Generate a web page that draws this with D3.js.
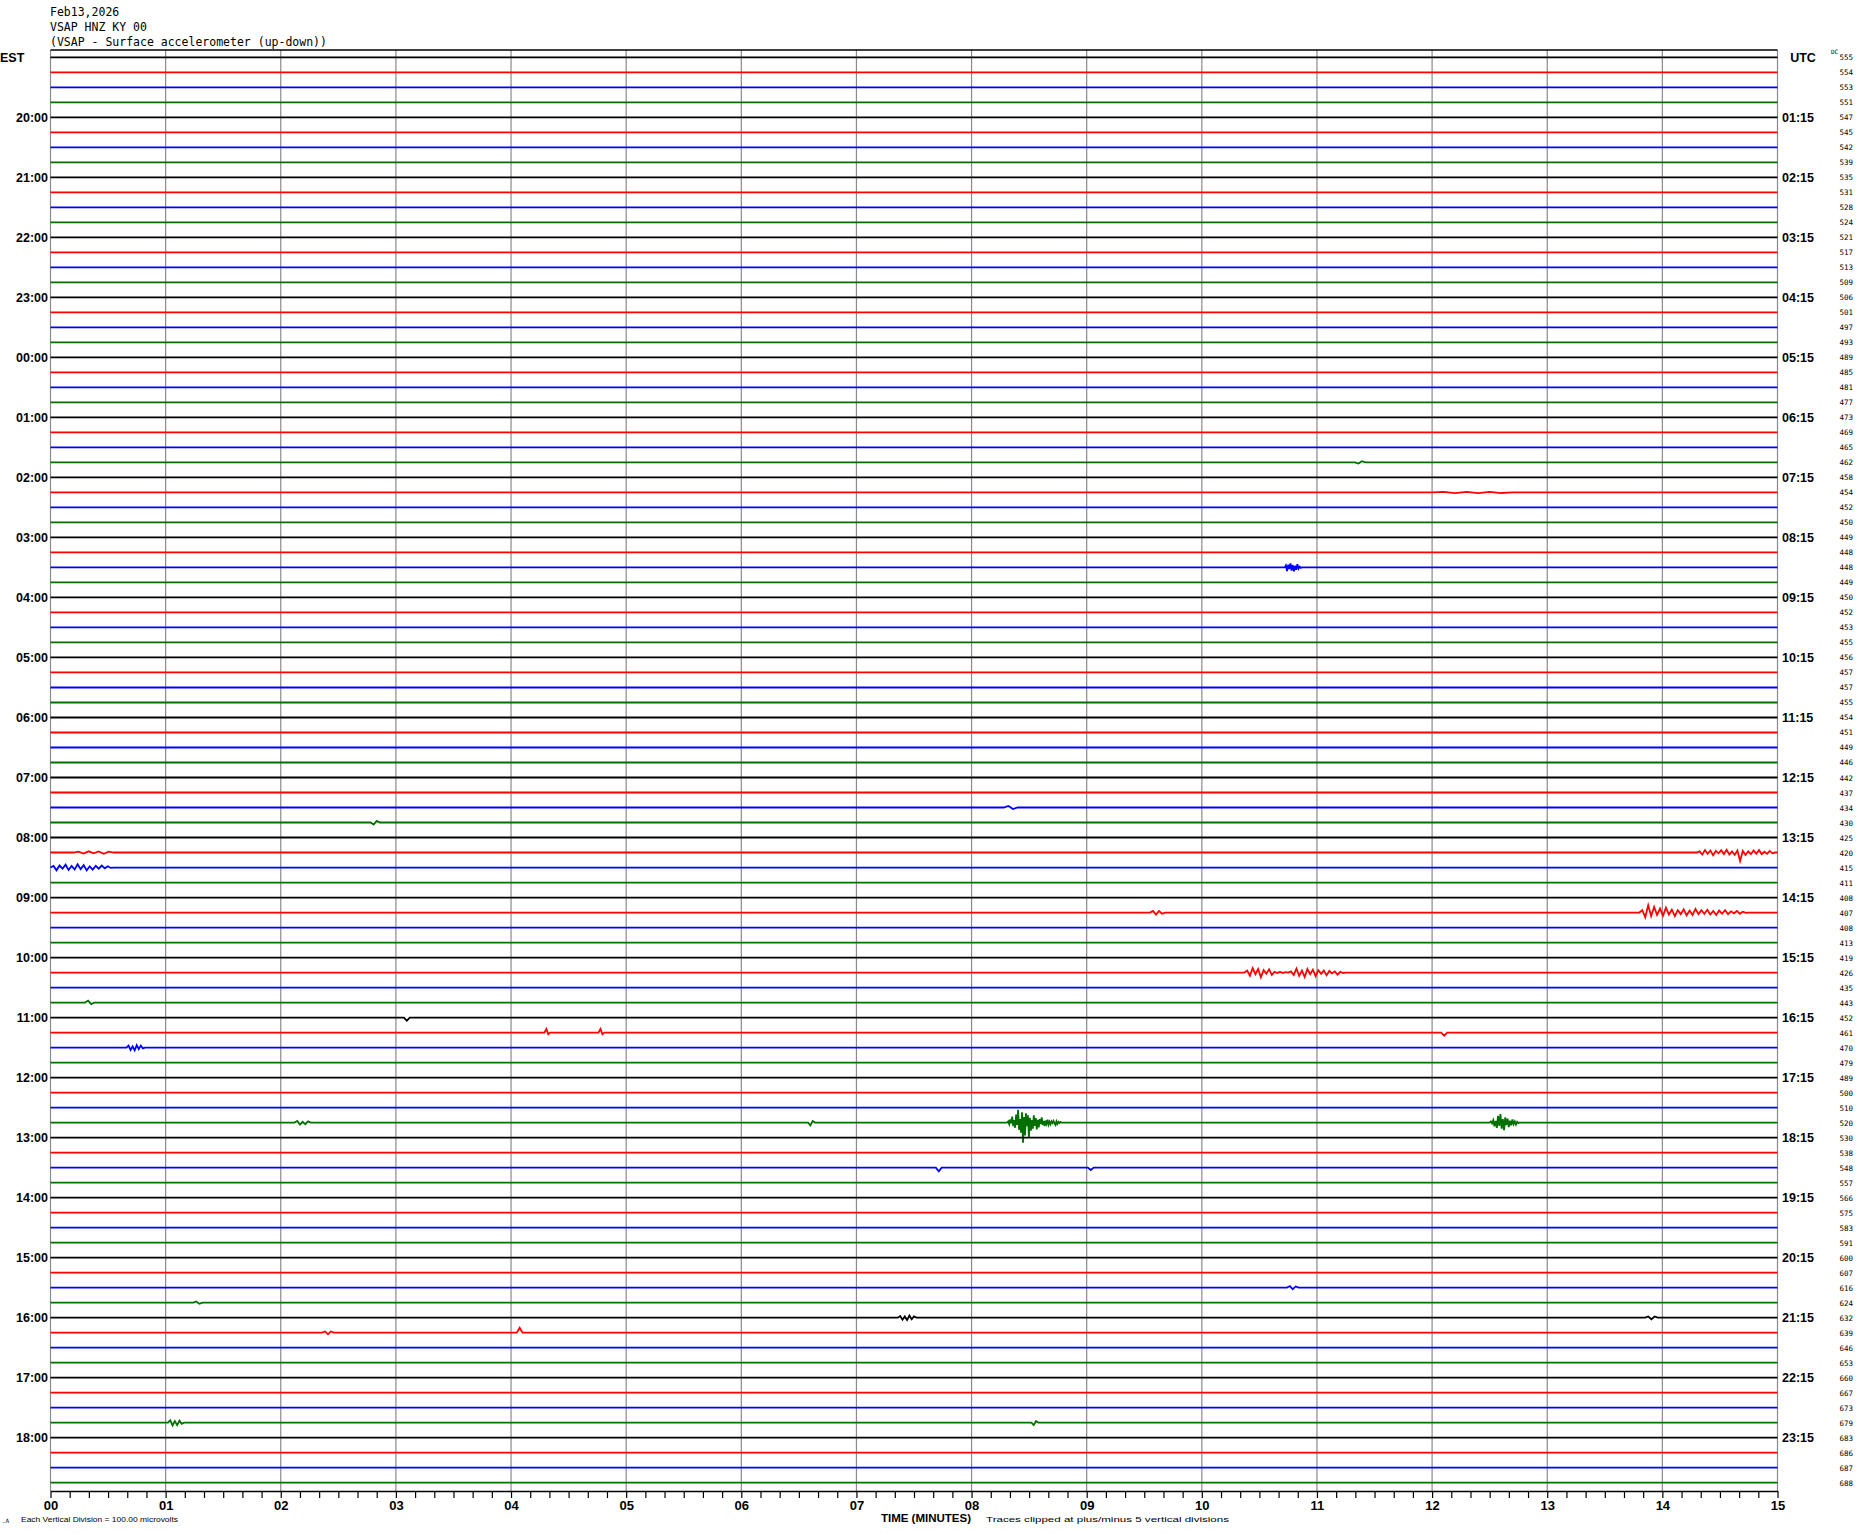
<!DOCTYPE html>
<html><head><meta charset="utf-8">
<script src="https://cdn.jsdelivr.net/npm/d3@7"></script>
<style>
html,body{margin:0;padding:0;background:#fff;}
svg{display:block;}
</style></head>
<body>
<svg id="chart" width="1858" height="1534"></svg>
<script>
// ---------- data ----------
const titleLines = ["Feb13,2026", "VSAP HNZ KY 00", "(VSAP - Surface accelerometer (up-down))"];
const estLabels = ["EST","20:00","21:00","22:00","23:00","00:00","01:00","02:00","03:00","04:00","05:00","06:00","07:00","08:00","09:00","10:00","11:00","12:00","13:00","14:00","15:00","16:00","17:00","18:00"];
const utcLabels = ["UTC","01:15","02:15","03:15","04:15","05:15","06:15","07:15","08:15","09:15","10:15","11:15","12:15","13:15","14:15","15:15","16:15","17:15","18:15","19:15","20:15","21:15","22:15","23:15"];
const dcValues = [555,554,553,551,547,545,542,539,535,531,528,524,521,517,513,509,506,501,497,493,
  489,485,481,477,473,469,465,462,458,454,452,450,449,448,448,449,450,452,453,455,
  456,457,457,455,454,451,449,446,442,437,434,430,425,420,415,411,408,407,408,413,
  419,426,435,443,452,461,470,479,489,500,510,520,530,538,548,557,566,575,583,591,
  600,607,616,624,632,639,646,653,660,667,673,679,683,686,687,688];
const minuteLabels = ["00","01","02","03","04","05","06","07","08","09","10","11","12","13","14","15"];
const traceColors = ["#000000","#ff0000","#0000ff","#007000"];
// events: row, start minute, end minute, samples in microvolts (positive = up)
const events = [
  {row:34, t0:10.72, t1:10.87, s:[0,50,-90,70,-40,100,-80,60,-100,40,-60,80,-30,20,-10,0]},
  {row:53, t0:0.20, t1:0.55, s:[0,20,-25,30,-20,25,-30,20,0]},
  {row:53, t0:14.30, t1:14.98, s:[0,30,-50,60,-30,50,-70,40,-20,60,-40,70,-50,30,-60,50,-210,40,-60,30,-40,50,-30,60,-40,20,-30,40,-20,0]},
  {row:54, t0:0.00, t1:0.55, s:[0,40,-70,50,-30,70,-60,40,-50,80,-40,60,-70,30,-50,40,-30,50,-20,30,-10,0]},
  {row:57, t0:9.55, t1:9.68, s:[0,40,-50,40,-30,0]},
  {row:57, t0:13.80, t1:14.75, s:[0,60,-120,180,-90,140,-60,100,-80,120,-50,70,-90,60,-40,80,-70,50,-60,90,-40,60,-30,70,-50,40,-60,50,-30,60,-40,30,-20,40,-30,20,-10,0]},
  {row:61, t0:10.37, t1:11.25, s:[0,50,-80,110,-40,90,-120,60,-30,80,-60,20,-10,15,-10,10,0,30,-60,100,-80,50,-110,90,-40,70,-90,60,-30,50,-70,40,-20,30,-50,20,-10,0]},
  {row:63, t0:0.30, t1:0.38, s:[0,50,-40,0]},
  {row:64, t0:3.07, t1:3.12, s:[0,-80,0]},
  {row:65, t0:4.29, t1:4.34, s:[0,90,-40,0]},
  {row:65, t0:4.76, t1:4.81, s:[0,90,-40,0]},
  {row:65, t0:12.08, t1:12.13, s:[0,-80,0]},
  {row:66, t0:0.66, t1:0.82, s:[0,50,-60,30,-70,60,-40,50,-20,0]},
  {row:71, t0:2.12, t1:2.26, s:[0,40,-50,20,-40,30,0]},
  {row:71, t0:6.58, t1:6.64, s:[0,-70,40,0]},
  {row:71, t0:8.31, t1:8.78, s:[0,30,-40,80,-20,150,-90,60,-130,200,-60,320,-180,90,-250,260,-500,140,-320,230,-90,180,-360,120,-200,60,-150,180,-80,110,-170,70,-120,90,-40,130,-60,40,-90,50,-30,70,-50,20,-40,30,-10,40,-20,-60,30,-30,20,-10,15,0]},
  {row:71, t0:12.50, t1:12.76, s:[0,30,-20,60,-90,40,-130,170,-80,210,-150,90,-190,130,-60,100,-110,50,-70,80,-40,30,-50,20,-10,0]},
  {row:74, t0:7.69, t1:7.74, s:[0,-90,0]},
  {row:74, t0:9.01, t1:9.06, s:[0,-60,0]},
  {row:84, t0:7.36, t1:7.52, s:[0,40,-50,30,-60,50,-40,30,0]},
  {row:84, t0:13.85, t1:13.96, s:[0,30,-40,30,0]},
  {row:85, t0:2.36, t1:2.46, s:[0,30,-40,30,0]},
  {row:85, t0:4.05, t1:4.10, s:[0,120,0]},
  {row:82, t0:10.74, t1:10.84, s:[0,40,-40,30,0]},
  {row:83, t0:1.24, t1:1.32, s:[0,30,-30,0]},
  {row:91, t0:1.02, t1:1.16, s:[0,60,-70,40,-60,50,-30,0]},
  {row:91, t0:8.52, t1:8.58, s:[0,-60,40,0]},
  {row:51, t0:2.78, t1:2.86, s:[0,-50,40,0]},
  {row:50, t0:8.28, t1:8.40, s:[0,40,-40,0]},
  {row:27, t0:11.33, t1:11.42, s:[0,-30,30,0]},
  {row:29, t0:12.00, t1:12.70, s:[0,15,-15,15,-15,15,-15,0]}
];

// ---------- layout ----------
const svg = d3.select("#chart");
const plotLeft = 50.5, plotRight = 1777.5, plotTop = 50, axisY = 1491;
const nRows = 96;
const x = d3.scaleLinear().domain([0,15]).range([plotLeft, plotRight]);
const yRow = d3.scaleLinear().domain([0, nRows-1]).range([57.3, 1482.7]);
const amp = d3.scaleLinear().domain([-500,500]).range([20,-20]);
const mono = "'DejaVu Sans Mono', monospace";
const bold = "'Liberation Sans', Arial, sans-serif";

// title
svg.append("g").selectAll("text").data(titleLines).join("text")
  .attr("x", 50).attr("y", (d,i)=>16 + i*15)
  .attr("font-family", mono).attr("font-size", 11.5).attr("fill","#000")
  .text(d=>d);

// vertical minute grid
svg.append("g").selectAll("line").data(d3.range(0,16)).join("line")
  .attr("x1", d=>x(d)).attr("x2", d=>x(d))
  .attr("y1", plotTop).attr("y2", axisY)
  .attr("stroke", "#8a8a8a").attr("stroke-width", 1.2);

// top border
svg.append("line").attr("x1", plotLeft).attr("x2", plotRight)
  .attr("y1", plotTop).attr("y2", plotTop).attr("stroke","#000").attr("stroke-width",1.3);

// traces
const line = d3.line().x(d=>x(d[0])).y(d=>d[1]);
const rows = d3.range(nRows).map(r=>{
  const pts = [[0,0]];
  events.filter(e=>e.row===r).sort((a,b)=>a.t0-b.t0).forEach(e=>{
    const n = e.s.length;
    e.s.forEach((v,i)=>pts.push([e.t0 + (e.t1-e.t0)*i/(n-1), v]));
  });
  pts.push([15,0]);
  return {r, pts};
});
svg.append("g").selectAll("path").data(rows).join("path")
  .attr("d", d=>line(d.pts.map(p=>[p[0], yRow(d.r) + amp(Math.max(-500, Math.min(500, p[1])))])))
  .attr("fill","none")
  .attr("stroke", d=>traceColors[d.r%4])
  .attr("stroke-width", 1.8)
  .attr("stroke-linejoin","miter");

// left hour labels
svg.append("g").selectAll("text").data(estLabels).join("text")
  .attr("x", (d,i)=> i===0 ? 0 : 48)
  .attr("text-anchor", (d,i)=> i===0 ? "start" : "end")
  .attr("y", (d,i)=>yRow(i*4)+4.5)
  .attr("font-family", bold).attr("font-weight","bold").attr("font-size", 12.5)
  .text(d=>d);

// right UTC labels
svg.append("g").selectAll("text").data(utcLabels).join("text")
  .attr("x", (d,i)=> i===0 ? 1803 : 1782)
  .attr("text-anchor", (d,i)=> i===0 ? "middle" : "start")
  .attr("y", (d,i)=>yRow(i*4)+4.5)
  .attr("font-family", bold).attr("font-weight","bold").attr("font-size", 12.5)
  .text(d=>d);

// DC values
svg.append("g").selectAll("text").data(dcValues).join("text")
  .attr("x", 1853).attr("text-anchor","end")
  .attr("y", (d,i)=>yRow(i)+3)
  .attr("font-family", mono).attr("font-size", 7.5)
  .text(d=>d);
svg.append("text").attr("x",1831).attr("y",54).attr("font-family",mono).attr("font-size",6).text("DC");

// bottom axis
const tickVals = d3.range(0, 91).map(i=>i/6);
const axis = d3.axisBottom(x).tickValues(tickVals).tickSize(7).tickSizeOuter(0)
  .tickFormat(d=> Math.abs(d - Math.round(d))<1e-9 ? minuteLabels[Math.round(d)] : "");
const gAx = svg.append("g").attr("transform", `translate(0,${axisY})`).call(axis);
gAx.select(".domain").attr("stroke","#000").attr("stroke-width",1.5);
gAx.selectAll(".tick line").attr("stroke","#000").attr("stroke-width",1.2);
gAx.selectAll(".tick text").attr("font-family", bold).attr("font-weight","bold")
  .attr("font-size", 13).attr("fill","#000").attr("dy", "0.55em").attr("y", 12);

// bottom texts
svg.append("text").attr("x", 926).attr("y", 1522).attr("text-anchor","middle")
  .attr("font-family", bold).attr("font-weight","bold").attr("font-size", 11.5)
  .text("TIME (MINUTES)");
svg.append("text").attr("x", 986).attr("y", 1522)
  .attr("font-family", bold).attr("font-size", 8).attr("textLength", 243).attr("lengthAdjust","spacingAndGlyphs")
  .text("Traces clipped at plus/minus 5 vertical divisions");
svg.append("text").attr("x", 21).attr("y", 1522)
  .attr("font-family", bold).attr("font-size", 8).attr("textLength", 157).attr("lengthAdjust","spacingAndGlyphs")
  .text("Each Vertical Division =  100.00 microvolts");
svg.append("text").attr("x", 2).attr("y", 1523)
  .attr("font-family", mono).attr("font-size", 6).text(".A");
</script>
</body></html>
